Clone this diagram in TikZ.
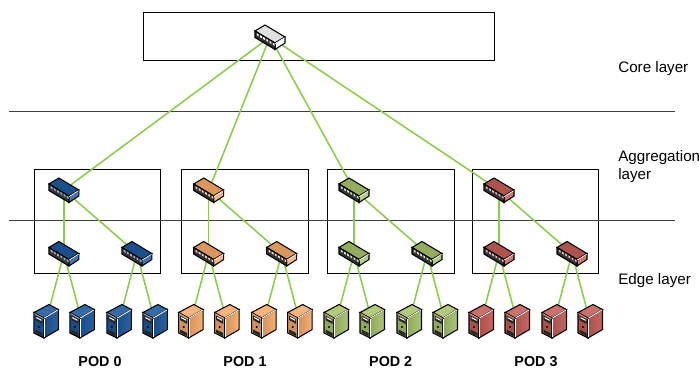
\documentclass[tikz,border=0pt]{standalone}
\usepackage{fontspec}
\setmainfont{Liberation Sans}
\usetikzlibrary{calc}
\definecolor{podblue}{HTML}{1F5A9E}
\definecolor{podorange}{HTML}{F7AC6B}
\definecolor{podgreen}{HTML}{A9C46C}
\definecolor{podred}{HTML}{C6605A}
\definecolor{linkgreen}{HTML}{8DCB4F}
\tikzset{
		box/.style={draw=black, line width=0.55pt, fill=white},
		divider/.style={draw=black!75, line width=0.55pt},
		link/.style={draw=linkgreen, line width=1.1pt},
		lbl/.style={font=\fontsize{10.8}{12.8}\selectfont, anchor=west, inner sep=0pt, align=left},
		podlbl/.style={font=\bfseries\fontsize{10.2}{12}\selectfont, inner sep=0pt},
		anchorpt/.style={inner sep=0pt, minimum size=0pt},
		pics/switchbox/.style={code={
				\draw[line width=0.75pt, fill=#1!88!black] (-15,-6) -- (-5,-12) -- (15,0) -- (5,6) -- cycle;
				\draw[line width=0.75pt, fill=#1!85!white] (5,6) -- (15,0) -- (15,6) -- (5,12.5) -- cycle;
				\draw[line width=0.75pt, fill=black!80] (-15,-6) -- (5,6) -- (5,12.5) -- (-15,0.5) -- cycle;
				\foreach \p in {0,...,5} {
					\fill[#1!45!white] ({-13.2+3.2*\p},{-3.8+1.9*\p}) -- ++(1.8,1.1) -- ++(0,2) -- ++(-1.8,-1.1) -- cycle;
				}
				\draw[white, line width=0.5pt] (5.3,6.5) -- (14.6,0.7);
		}},
		pics/serverbox/.style={code={
				\draw[line width=0.75pt, fill=#1!85!black] (-12,-9) -- (-2,-3.5) -- (-2,16.5) -- (-12,11.5) -- cycle;
				\draw[line width=0.75pt, left color=#1!85!black, right color=#1!95!white] (-2,-3.5) -- (12.5,-12) -- (12.5,8) -- (-2,16.5) -- cycle;
				\draw[line width=0.75pt, fill=#1!90!white] (-12,-9) -- (3,-17) -- (12.5,-12) -- (-2,-3.5) -- cycle;
				\draw[white, line width=0.6pt] (-1.5,-3.5) -- (12,-11.5);
				\draw[white, line width=0.6pt] (-1.2,-3) -- (-1.2,15.5);
				\draw[brown!60!white, line width=0.5pt] (-11.5,-8) -- (-2.5,-3);
				\fill[black!85] (-10.5,-6) -- (-3.5,-2) -- (-3.5,2.5) -- (-10.5,-1.5) -- cycle;
				\fill[white] (-9.5,-4.5) -- (-4.5,-1.8) -- (-4.5,-0.6) -- (-9.5,-3.3) -- cycle;
				\fill[black] (-7,5.5) circle (1.2);
				\fill[black!85] (-10.5,8) -- (-3.5,11.5) -- (-3.5,15) -- (-10.5,11) -- cycle;
		}}
	}

\begin{document}
\begin{tikzpicture}[x=0.25mm, y=-0.25mm]
		\useasboundingbox (0,0) rectangle (699,371);
		% frames and layer lines
		\node[box, anchorpt, minimum width=351*0.25mm, minimum height=48*0.25mm] (coreframe) at (318.5,36) {};
		\foreach \name/\x in {podzero/97.5, podone/245, podtwo/391, podthree/535.7} {
			\node[box, anchorpt, minimum width=126.3*0.25mm, minimum height=104.3*0.25mm] (\name) at (\x,221.2) {};
		}
		\coordinate (lineAa) at (9,111); \coordinate (lineAb) at (675,111);
		\coordinate (lineBa) at (9,220); \coordinate (lineBb) at (675,220);
		\draw[divider] (lineAa) -- (lineAb);
		\draw[divider] (lineBa) -- (lineBb);
		% positions of the devices
		\coordinate (core) at (270,37);
		\foreach \pod/\x in {0/63.9, 1/208.7, 2/354, 3/499} {
			\coordinate (agg\pod) at (\x,190);
			\coordinate (edge\pod a) at (\x,253.5);
			\coordinate (edge\pod b) at (\x+73,253.5);
			\coordinate (srv\pod a) at (\x-18,321.5);
			\coordinate (srv\pod b) at (\x+18,321.5);
			\coordinate (srv\pod c) at (\x+55,321.5);
			\coordinate (srv\pod d) at (\x+91,321.5);
		}
		% links
		\foreach \pod in {0,1,2,3} {
			\draw[link] (core) -- (agg\pod);
			\draw[link] (agg\pod) -- (edge\pod a);
			\draw[link] (agg\pod) -- (edge\pod b);
			\draw[link] (edge\pod a) -- (srv\pod a);
			\draw[link] (edge\pod a) -- (srv\pod b);
			\draw[link] (edge\pod b) -- (srv\pod c);
			\draw[link] (edge\pod b) -- (srv\pod d);
		}
		% devices
		\pic at (core) {switchbox=white};
		\foreach \pod/\col in {0/podblue, 1/podorange, 2/podgreen, 3/podred} {
			\pic at (agg\pod) {switchbox=\col};
			\pic at (edge\pod a) {switchbox=\col};
			\pic at (edge\pod b) {switchbox=\col};
			\foreach \s in {a,b,c,d} {
				\pic at (srv\pod\s) {serverbox=\col};
			}
		}
		% labels
		\node[lbl] (corelbl) at (618,69) {Core layer};
		\node[lbl] (agglbl) at (618,167) {Aggregation\\layer};
		\node[lbl] (edgelbl) at (618,281) {Edge layer};
		\node[podlbl] (pod0lbl) at (100,362) {POD 0};
		\node[podlbl] (pod1lbl) at (245,362) {POD 1};
		\node[podlbl] (pod2lbl) at (390.7,362) {POD 2};
		\node[podlbl] (pod3lbl) at (536,362) {POD 3};
	\end{tikzpicture}
\end{document}
